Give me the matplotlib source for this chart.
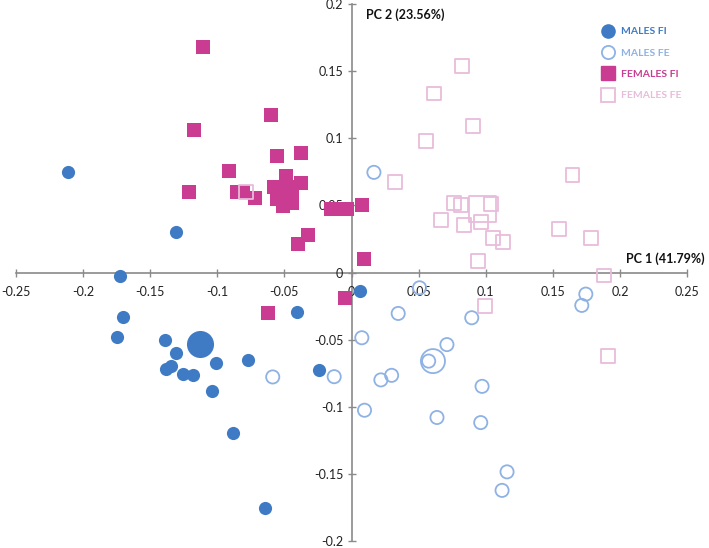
import matplotlib
matplotlib.use('Agg')
import matplotlib.pyplot as plt
from matplotlib.lines import Line2D

# PCA scores (PC 1, PC 2)
males_fi_x = [-0.2114, -0.131, -0.1726, -0.170, -0.175, -0.139, -0.1306, -0.1343, -0.1383, -0.1259,
              -0.1184, -0.1007, -0.1042, -0.0774, -0.0405, -0.0239, -0.0886, -0.0644, 0.006]
males_fi_y = [0.0751, 0.0305, -0.0025, -0.0335, -0.048, -0.0503, -0.0597, -0.0697, -0.0716, -0.0758,
              -0.0766, -0.0674, -0.0882, -0.0654, -0.0295, -0.0724, -0.1192, -0.1757, -0.0135]
males_fe_x = [0.0167, 0.0507, 0.0348, 0.0077, 0.0896, 0.0711, 0.0575, 0.0299, 0.0219, 0.0973,
              0.0097, 0.0637, 0.0963, 0.1159, 0.1122, 0.1746, 0.1716, -0.0587, -0.0129]
males_fe_y = [0.0746, -0.0114, -0.0305, -0.0486, -0.0337, -0.0537, -0.066, -0.0766, -0.080, -0.0848,
              -0.1026, -0.108, -0.1118, -0.1485, -0.1623, -0.0161, -0.0245, -0.0778, -0.0776]
females_fi_x = [-0.111, -0.117, -0.0597, -0.0915, -0.1214, -0.0856, -0.0808, -0.0716, -0.0555, -0.0376,
                -0.0376, -0.0396, -0.0326, -0.0575, -0.0555, -0.0488, -0.0513, -0.045, -0.044, -0.015,
                -0.009, -0.003, 0.0077, 0.009, -0.0624, -0.0052]
females_fi_y = [0.168, 0.106, 0.1175, 0.0753, 0.060, 0.0597, 0.0597, 0.0553, 0.087, 0.0887,
                0.0664, 0.0213, 0.028, 0.064, 0.055, 0.072, 0.0493, 0.058, 0.052, 0.0475,
                0.0475, 0.0475, 0.0503, 0.0102, -0.0303, -0.019]
females_fe_x = [-0.0786, 0.0826, 0.0614, 0.0908, 0.0555, 0.0326, 0.1647, 0.0761, 0.0813, 0.1042,
                0.0669, 0.0836, 0.0963, 0.1055, 0.1129, 0.1545, 0.1786, 0.0945, 0.0995, 0.1913, 0.1883]
females_fe_y = [0.0597, 0.1541, 0.1333, 0.1088, 0.0981, 0.0677, 0.0726, 0.0518, 0.050, 0.051,
                0.0394, 0.0352, 0.0374, 0.0258, 0.0228, 0.0327, 0.026, 0.0087, -0.025, -0.0622, -0.0022]

# group centroids (big markers)
centroid_x = [-0.1129, 0.0607, -0.049, 0.0975]
centroid_y = [-0.0535, -0.066, 0.059, 0.0473]

labels = ['MALES FI', 'MALES FE', 'FEMALES FI', 'FEMALES FE']
colors = ['#3f7bc4', '#8fb2e4', '#c93c91', '#e8bcdb']

plt.rcParams['font.family'] = ['Lato', 'DejaVu Sans']
plt.rcParams['axes.unicode_minus'] = False

fig = plt.figure(figsize=(7.09, 5.48), dpi=100)
ax = fig.add_axes([16 / 709, 7 / 548, (687 - 16) / 709, (541 - 4) / 548])

small = 90
ax.scatter(males_fi_x, males_fi_y, s=small, marker='o', color=colors[0], linewidths=0, zorder=3)
ax.scatter(centroid_x[0], centroid_y[0], s=380, marker='o', color=colors[0], linewidths=0, zorder=3)
ax.scatter(males_fe_x, males_fe_y, s=small, marker='o', facecolors='none', edgecolors=colors[1],
           linewidths=1.3, zorder=3)
ax.scatter(centroid_x[1], centroid_y[1], s=300, marker='o', facecolors='none', edgecolors=colors[1],
           linewidths=1.3, zorder=3)
ax.scatter(females_fi_x, females_fi_y, s=100, marker='s', color=colors[2], linewidths=0, zorder=3)
ax.scatter(centroid_x[2], centroid_y[2], s=360, marker='s', color=colors[2], linewidths=0, zorder=3)
ax.scatter(females_fe_x, females_fe_y, s=100, marker='s', facecolors='none', edgecolors=colors[3],
           linewidths=1.3, zorder=3)
ax.scatter(centroid_x[3], centroid_y[3], s=360, marker='s', facecolors='none', edgecolors=colors[3],
           linewidths=1.3, zorder=3)

ax.set_xlim(-0.25, 0.25)
ax.set_ylim(-0.2, 0.2)
ax.set_xticks([-0.25, -0.2, -0.15, -0.1, -0.05, 0, 0.05, 0.1, 0.15, 0.2, 0.25])
ax.set_xticklabels(['-0.25', '-0.2', '-0.15', '-0.1', '-0.05', '0', '0.05', '0.1', '0.15', '0.2', '0.25'])
ax.set_yticks([-0.2, -0.15, -0.1, -0.05, 0, 0.05, 0.1, 0.15, 0.2])
ax.set_yticklabels(['-0.2', '-0.15', '-0.1', '-0.05', '0', '0.05', '0.1', '0.15', '0.2'])

for side in ['top', 'right']:
    ax.spines[side].set_visible(False)
for side in ['left', 'bottom']:
    ax.spines[side].set_position(('data', 0))
    ax.spines[side].set_color('#8a8a8a')
    ax.spines[side].set_linewidth(1.2)
    ax.spines[side].set_zorder(1)
ax.tick_params(axis='both', direction='inout', length=6, width=1, color='#8a8a8a',
               labelsize=9, labelcolor='#222222')
ax.tick_params(axis='x', pad=7)
ax.tick_params(axis='y', pad=3)
ax.patch.set_alpha(0)

ax.text(0.011, 0.1918, 'PC 2 (23.56%)', fontsize=9, fontweight='bold', color='#111111',
        ha='left', va='center')
ax.text(0.2634, 0.0104, 'PC 1 (41.79%)', fontsize=9, fontweight='bold', color='#111111',
        ha='right', va='center', clip_on=False)

handles = [
    Line2D([], [], linestyle='none', marker='o', markersize=9.5, color=colors[0]),
    Line2D([], [], linestyle='none', marker='o', markersize=9.5, markerfacecolor='none',
           markeredgecolor=colors[1], markeredgewidth=1.3),
    Line2D([], [], linestyle='none', marker='s', markersize=10, color=colors[2]),
    Line2D([], [], linestyle='none', marker='s', markersize=10, markerfacecolor='none',
           markeredgecolor=colors[3], markeredgewidth=1.3),
]
leg = fig.legend(handles, labels, loc='upper left', bbox_to_anchor=(598 / 709, 1 - 23 / 548),
                 frameon=False, prop={'weight': 'bold', 'size': 7.5}, handlelength=1.2,
                 handletextpad=0.6, labelspacing=1.15, borderaxespad=0)
for t, c in zip(leg.get_texts(), colors):
    t.set_color(c)

fig.savefig('out.png', dpi=100)
